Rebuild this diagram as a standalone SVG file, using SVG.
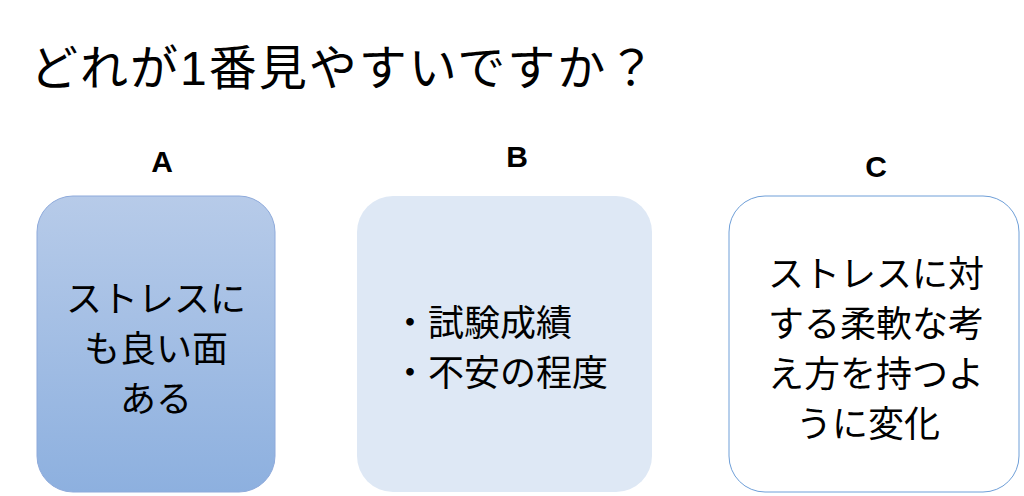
<svg xmlns="http://www.w3.org/2000/svg" width="1024" height="496" viewBox="0 0 1024 496">
<style>
text{font-family:"Liberation Sans","Noto Sans CJK JP",sans-serif;fill:#000}
.t{font-size:36px;text-anchor:middle}
.h{font-size:30px;font-weight:bold;text-anchor:middle}
</style>
<defs><linearGradient id="g" x1="0" y1="0" x2="0" y2="1"><stop offset="0" stop-color="#b7cbe9"/><stop offset="1" stop-color="#8db0df"/></linearGradient></defs>
<rect width="1024" height="496" fill="#fff"/>
<text x="30" y="85" style="font-size:48px;letter-spacing:2px">どれが1番見やすいですか？</text>
<g id="labelA"><text class="h" x="162" y="172">A</text></g>
<g id="labelB"><text class="h" x="517" y="167">B</text></g>
<g id="labelC"><text class="h" x="876" y="177">C</text></g>
<g id="nodeA"><rect x="37" y="196" width="238" height="296" rx="36" fill="url(#g)" stroke="#8eaadb"/>
<text class="t" x="156" y="312">ストレスに</text><text class="t" x="156" y="362">も良い面</text><text class="t" x="156" y="412">ある</text></g>
<g id="nodeB"><rect x="357" y="196" width="295" height="296" rx="36" fill="#dee8f5"/>
<text x="392" y="336" style="font-size:36px">・試験成績</text><text x="392" y="386" style="font-size:36px">・不安の程度</text></g>
<g id="nodeC"><rect x="729" y="196" width="290" height="296" rx="36" fill="#fff" stroke="#6f9fd8"/>
<text class="t" x="876" y="287">ストレスに対</text><text class="t" x="876" y="337">する柔軟な考</text><text class="t" x="876" y="387">え方を持つよ</text><text class="t" x="868" y="437">うに変化</text></g>
<g id="connectors"/>
</svg>
